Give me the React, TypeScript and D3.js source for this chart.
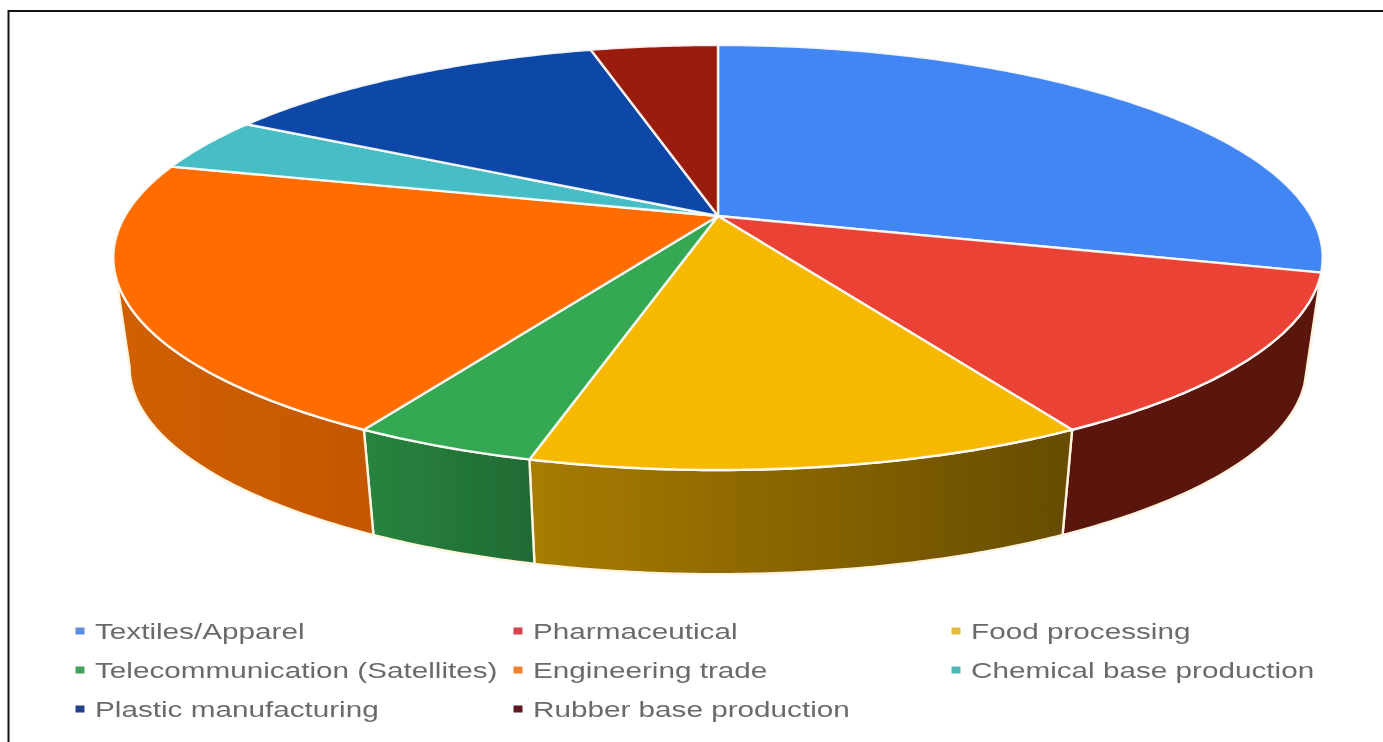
import React from "react";
import * as d3 from "d3";

const categories = [
  "Textiles/Apparel",
  "Pharmaceutical",
  "Food processing",
  "Telecommunication (Satellites)",
  "Engineering trade",
  "Chemical base production",
  "Plastic manufacturing",
  "Rubber base production",
];
const shares = [29.2, 12.5, 12.4, 4.1, 20.8, 4.1, 12.7, 4.1];

const topColors = ["#4285f4", "#ea4335", "#f7b900", "#34a853", "#ff6d00", "#46bdc6", "#0b47a8", "#9a1b0e"];
const legendColors = ["#5b8fdc", "#d8434f", "#e3bb45", "#3fa45f", "#f08030", "#4fb5b5", "#27408f", "#5c1a24"];
const sideLeft = ["#2a5aa8", "#5a1710", "#a87c00", "#27843f", "#d05f00", "#2c7a80", "#072c68", "#5e1008"];
const sideRight = ["#2a5aa8", "#5a1710", "#664c00", "#226a34", "#c45800", "#2c7a80", "#072c68", "#5e1008"];

const W = 1383;
const H = 742;
const CX = 718;
const CY = 216;
const A = 593;
const B = 204.4;
const K = 0.1953;
const DEPTH = 111;
const SHRINK = 0.973;
const TEXT_STRETCH = 1.32;

type P = [number, number];
const project = (t: number): P => {
  const u = Math.sin(t);
  const v = Math.cos(t);
  const w = 1 + K * v;
  return [(A * u) / w, (-B * v) / w];
};
const topPt = (t: number): P => {
  const [x, y] = project(t);
  return [CX + x, CY + y];
};
const botPt = (t: number): P => {
  const [x, y] = project(t);
  return [CX + SHRINK * x, CY + DEPTH + SHRINK * y];
};
const samples = (a: number, b: number) => {
  const n = Math.max(2, Math.ceil(Math.abs(b - a) / 0.01));
  return d3.range(n + 1).map((i) => a + ((b - a) * i) / n);
};
const line = d3.line<P>().curve(d3.curveLinear);

const arcs = d3
  .pie<number>()
  .sort(null)
  .startAngle(0)
  .endAngle(2 * Math.PI)(shares);

const frontStart = Math.acos(-K);
const frontEnd = 2 * Math.PI - frontStart;

const columnX = d3.scalePoint<number>().domain([0, 1, 2]).range([95, 971]);
const rowY = d3.scalePoint<number>().domain([0, 1, 2]).range([631, 709]);

export default function App() {
  const sides = arcs
    .map((a, i) => ({ i, s: Math.max(a.startAngle, frontStart), e: Math.min(a.endAngle, frontEnd) }))
    .filter((d) => d.e > d.s);
  return (
    <svg
      width={W}
      height={H}
      viewBox={`0 0 ${W} ${H}`}
      style={{ position: "absolute", left: 0, top: 0, background: "#fff" }}
    >
      <defs>
        {sides.map(({ i, s, e }) => (
          <linearGradient
            key={i}
            id={`side${i}`}
            gradientUnits="userSpaceOnUse"
            x1={d3.min([topPt(s)[0], topPt(e)[0], botPt(s)[0], botPt(e)[0]])}
            x2={d3.max([topPt(s)[0], topPt(e)[0], botPt(s)[0], botPt(e)[0]])}
            y1={0}
            y2={0}
          >
            <stop offset="0" stopColor={sideLeft[i]} />
            <stop offset="1" stopColor={sideRight[i]} />
          </linearGradient>
        ))}
        <filter id="soft" x="-5%" y="-20%" width="110%" height="140%">
          <feGaussianBlur stdDeviation="0.6" />
        </filter>
        <filter id="softPie" x="-2%" y="-2%" width="104%" height="104%">
          <feGaussianBlur stdDeviation="0.4" />
        </filter>
      </defs>

      <line x1={8.5} y1={10} x2={8.5} y2={H} stroke="#111" strokeWidth={2} />
      <line x1={8} y1={11} x2={W} y2={11} stroke="#111" strokeWidth={2} />

      <g filter="url(#softPie)">
        {sides.map(({ i, s, e }) => {
          const pts: P[] = [...samples(s, e).map(topPt), ...samples(e, s).map(botPt)];
          return (
            <path
              key={i}
              d={line(pts) + "Z"}
              fill={`url(#side${i})`}
              stroke="#fff4e0"
              strokeWidth={2.4}
              strokeLinejoin="round"
            />
          );
        })}

        {arcs.map((a, i) => {
          const pts: P[] = [[CX, CY], ...samples(a.startAngle, a.endAngle).map(topPt)];
          return (
            <path
              key={i}
              d={line(pts) + "Z"}
              fill={topColors[i]}
              stroke="#fff"
              strokeOpacity={0.9}
              strokeWidth={2.4}
              strokeLinejoin="round"
            />
          );
        })}
      </g>

      <g filter="url(#soft)">
        {categories.map((c, i) => {
          const col = i % 3;
          const row = Math.floor(i / 3);
          const x = columnX(col)!;
          const y = rowY(row)!;
          return (
            <g key={c}>
              <rect x={x - 19.5} y={y - 3.5} width={9} height={7} fill={legendColors[i]} />
              <text
                transform={`translate(${x},${y + 7.5}) scale(${TEXT_STRETCH},1)`}
                fontFamily="'Liberation Sans', Arial, sans-serif"
                fontSize={22.5}
                fill="#6a6a6a"
              >
                {c}
              </text>
            </g>
          );
        })}
      </g>
    </svg>
  );
}
